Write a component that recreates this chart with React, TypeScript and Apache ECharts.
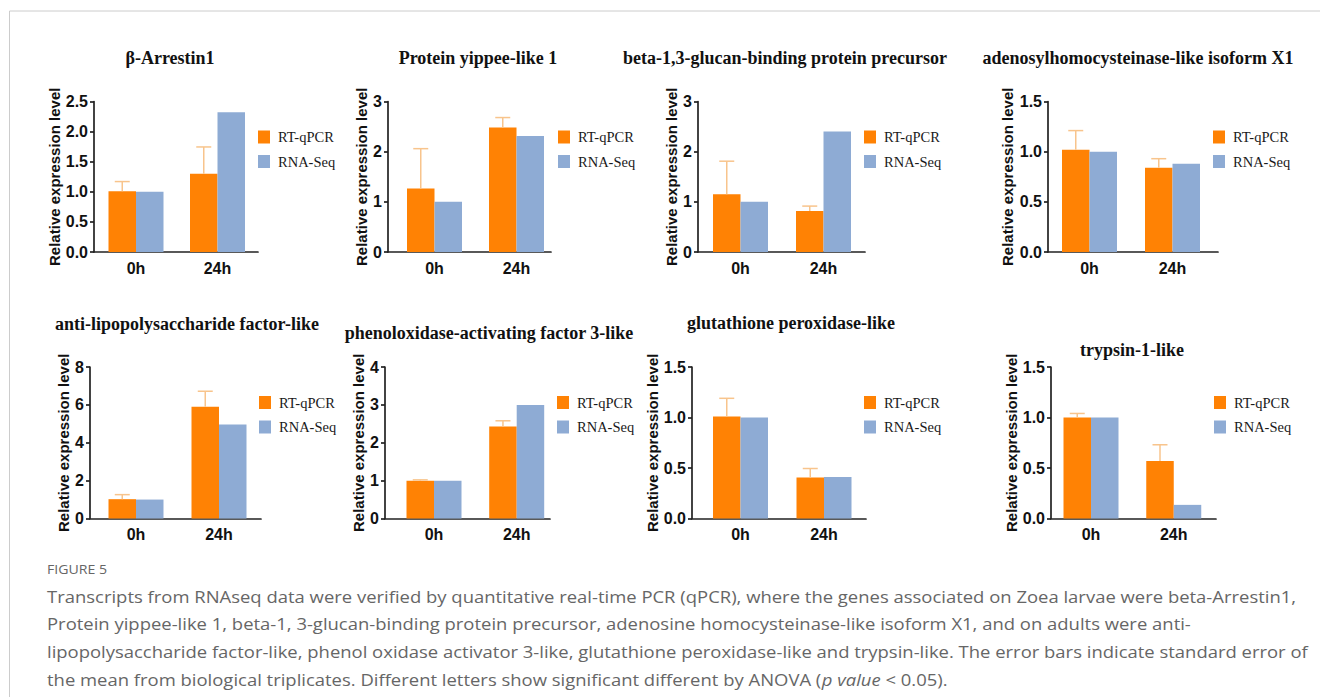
import React, { useEffect, useRef } from 'react';
import * as echarts from 'echarts';

// ---------- data ----------
const genes = [
  'β-Arrestin1',
  'Protein yippee-like 1',
  'beta-1,3-glucan-binding protein precursor',
  'adenosylhomocysteinase-like isoform X1',
  'anti-lipopolysaccharide factor-like',
  'phenoloxidase-activating factor 3-like',
  'glutathione peroxidase-like',
  'trypsin-1-like',
];
const categories = ['0h', '24h'];
const seriesNames = ['RT-qPCR', 'RNA-Seq'];
const qpcr0h = [1.01, 1.265, 1.15, 1.02, 1.02, 1.0, 1.01, 1.0];
const qpcr24h = [1.3, 2.48, 0.815, 0.84, 5.9, 2.43, 0.405, 0.57];
const qpcrErr0h = [0.16, 0.795, 0.66, 0.19, 0.24, 0.02, 0.18, 0.04];
const qpcrErr24h = [0.445, 0.2, 0.1, 0.09, 0.82, 0.15, 0.09, 0.16];
const seq0h = [1.0, 1.0, 1.0, 1.0, 1.0, 1.0, 1.0, 1.0];
const seq24h = [2.32, 2.31, 2.4, 0.88, 4.96, 3.0, 0.41, 0.135];
const yMax = [2.5, 3, 3, 1.5, 8, 4, 1.5, 1.5];
const yStep = [0.5, 1, 1, 0.5, 2, 1, 0.5, 0.5];
const yDecimals = [1, 0, 0, 1, 0, 0, 1, 1];
const yAxisTitle = 'Relative expression level';
const captionHead = 'FIGURE 5';
const captionLines = [
  'Transcripts from RNAseq data were verified by quantitative real-time PCR (qPCR), where the genes associated on Zoea larvae were beta-Arrestin1,',
  'Protein yippee-like 1, beta-1, 3-glucan-binding protein precursor, adenosine homocysteinase-like isoform X1, and on adults were anti-',
  'lipopolysaccharide factor-like, phenol oxidase activator 3-like, glutathione peroxidase-like and trypsin-like. The error bars indicate standard error of',
  'the mean from biological triplicates. Different letters show significant different by ANOVA ({i|p value} < 0.05).',
];

// ---------- layout (pixels) ----------
const TOP_ROW = { top: 101.5, bottom: 252, legendTop: 129.5 };
const BOT_ROW = { top: 367, bottom: 518.5, legendTop: 395 };
const layout = [
  { row: TOP_ROW, axisL: 94, axisR: 258, c1: 136, c2: 217.5, titleX: 170, titleY: 58, legendX: 258, nameGap: 30 },
  { row: TOP_ROW, axisL: 388, axisR: 551, c1: 434.5, c2: 516.5, titleX: 478, titleY: 58, legendX: 558, nameGap: 14 },
  { row: TOP_ROW, axisL: 698, axisR: 865, c1: 740.5, c2: 823.5, titleX: 785, titleY: 58, legendX: 864, nameGap: 14.5 },
  { row: TOP_ROW, axisL: 1048, axisR: 1218, c1: 1089.5, c2: 1172.5, titleX: 1138, titleY: 58, legendX: 1213, nameGap: 33 },
  { row: BOT_ROW, axisL: 90, axisR: 261, c1: 136, c2: 219, titleX: 187, titleY: 324, legendX: 259, nameGap: 15 },
  { row: BOT_ROW, axisL: 385, axisR: 550, c1: 434, c2: 516.7, titleX: 489, titleY: 333, legendX: 557, nameGap: 11.5 },
  { row: BOT_ROW, axisL: 692, axisR: 866, c1: 740.5, c2: 824, titleX: 791, titleY: 323, legendX: 864, nameGap: 30 },
  { row: BOT_ROW, axisL: 1051, axisR: 1216, c1: 1091, c2: 1173.75, titleX: 1132, titleY: 350, legendX: 1214, nameGap: 28 },
];

const ORANGE = '#FF8204';
const BLUE = '#8EABD4';
const ERR = '#F8C48C';
const AXIS = '#222222';
const BAR_W = 27.5;

export default function App() {
  const ref = useRef<HTMLDivElement>(null);

  useEffect(() => {
    if (!ref.current) return;
    const chart = echarts.init(ref.current, null, { renderer: 'svg' });

    const grids: any[] = [];
    const xAxes: any[] = [];
    const yAxes: any[] = [];
    const legends: any[] = [];
    const series: any[] = [];
    const graphics: any[] = [];

    const tickFont = { fontFamily: 'Liberation Sans', fontWeight: 'bold', fontSize: 16, color: '#111' };
    const nameFont = { fontFamily: 'Liberation Sans', fontWeight: 'bold', fontSize: 15, color: '#111' };

    genes.forEach((g, i) => {
      const L = layout[i];
      const s = L.c2 - L.c1;
      const xmin = -(L.c1 - L.axisL) / s;
      const xmax = 1 + (L.axisR - L.c2) / s;
      grids.push({
        left: L.axisL,
        top: L.row.top,
        width: L.axisR - L.axisL,
        height: L.row.bottom - L.row.top,
        containLabel: false,
        outerBoundsMode: 'none',
      });
      xAxes.push({
        type: 'value',
        gridIndex: i,
        min: xmin,
        max: xmax,
        axisLine: { show: true, onZero: false, lineStyle: { color: AXIS, width: 1.7 } },
        axisTick: { show: false },
        splitLine: { show: false },
        axisLabel: {
          customValues: [0, 1],
          formatter: (v: number) => categories[Math.round(v)] ?? '',
          margin: 8,
          ...tickFont,
        },
      });
      yAxes.push({
        type: 'value',
        gridIndex: i,
        min: 0,
        max: yMax[i],
        interval: yStep[i],
        axisLine: { show: true, onZero: false, lineStyle: { color: AXIS, width: 1.7 } },
        axisTick: { show: true, length: 4, lineStyle: { color: AXIS, width: 1.7 } },
        splitLine: { show: false },
        axisLabel: {
          margin: 6,
          formatter: (v: number) => v.toFixed(yDecimals[i]),
          ...tickFont,
        },
        name: yAxisTitle,
        nameLocation: 'middle',
        nameRotate: 90,
        nameGap: L.nameGap,
        nameTextStyle: { ...nameFont },
      });
      legends.push({
        orient: 'vertical',
        left: L.legendX,
        top: L.row.legendTop,
        padding: 0,
        itemWidth: 12,
        itemHeight: 13,
        itemGap: 9.5,
        icon: 'rect',
        selectedMode: false,
        data: seriesNames,
        textStyle: { fontFamily: 'Liberation Serif', fontSize: 14.5, color: '#1a1a1a', padding: [0, 0, 0, 3] },
      });
      series.push({
        type: 'bar',
        name: seriesNames[0],
        xAxisIndex: i,
        yAxisIndex: i,
        barWidth: BAR_W,
        barGap: '0%',
        itemStyle: { color: ORANGE },
        data: [
          [0, qpcr0h[i]],
          [1, qpcr24h[i]],
        ],
      });
      series.push({
        type: 'bar',
        name: seriesNames[1],
        xAxisIndex: i,
        yAxisIndex: i,
        barWidth: BAR_W,
        barGap: '0%',
        itemStyle: { color: BLUE },
        data: [
          [0, seq0h[i]],
          [1, seq24h[i]],
        ],
      });
      series.push({
        type: 'custom',
        name: 'err',
        xAxisIndex: i,
        yAxisIndex: i,
        z: 5,
        encode: { x: 0, y: 1 },
        data: [
          [0, qpcr0h[i], qpcrErr0h[i]],
          [1, qpcr24h[i], qpcrErr24h[i]],
        ],
        renderItem: (params: any, api: any) => {
          const x = api.value(0);
          const m = api.value(1);
          const e = api.value(2);
          const base = api.coord([x, m]);
          const top = api.coord([x, m + e]);
          const cx = base[0] - BAR_W / 2;
          return {
            type: 'group',
            children: [
              { type: 'line', shape: { x1: cx, y1: base[1], x2: cx, y2: top[1] }, style: { stroke: ERR, lineWidth: 1.5 } },
              { type: 'line', shape: { x1: cx - 7.5, y1: top[1], x2: cx + 7.5, y2: top[1] }, style: { stroke: ERR, lineWidth: 1.5 } },
            ],
          };
        },
      });
      graphics.push({
        type: 'text',
        x: L.titleX,
        y: L.titleY,
        style: {
          text: g,
          fontFamily: 'Liberation Serif',
          fontWeight: 'bold',
          fontSize: 18,
          fill: '#111',
          textAlign: 'center',
          textVerticalAlign: 'middle',
        },
      });
    });

    // frame lines
    graphics.push({ type: 'line', shape: { x1: 9.5, y1: 11, x2: 1320, y2: 11 }, style: { stroke: '#cccccc', lineWidth: 1 } });
    graphics.push({ type: 'line', shape: { x1: 9.5, y1: 11, x2: 9.5, y2: 697 }, style: { stroke: '#cccccc', lineWidth: 1 } });

    // caption
    const capFont = 'Open Sans';
    const capSize = 17;
    const capColor = '#666666';
    let scaleX = 0.93;
    try {
      const cv = document.createElement('canvas').getContext('2d');
      if (cv) {
        cv.font = `${capSize}px "${capFont}"`;
        const w = cv.measureText(captionLines[0]).width;
        if (w > 0) scaleX = 1250 / w;
      }
    } catch (e) {}
    graphics.push({
      type: 'text',
      x: 47,
      y: 569,
      scaleX,
      style: { text: captionHead, fontFamily: capFont, fontSize: 13, fill: capColor, textVerticalAlign: 'middle' },
    });
    const lineY = [596, 623.5, 651, 679];
    captionLines.forEach((t, k) => {
      graphics.push({
        type: 'text',
        x: 47,
        y: lineY[k],
        scaleX,
        style: {
          text: t,
          fontFamily: capFont,
          fontSize: capSize,
          fill: capColor,
          textVerticalAlign: 'middle',
          rich: {
            i: { fontFamily: capFont, fontSize: capSize, fill: capColor, fontStyle: 'italic' },
          },
        },
      });
    });

    chart.setOption({
      animation: false,
      backgroundColor: '#ffffff',
      grid: grids,
      xAxis: xAxes,
      yAxis: yAxes,
      legend: legends,
      series,
      graphic: graphics,
    });

    return () => chart.dispose();
  }, []);

  return (
    <div
      ref={ref}
      style={{ position: 'absolute', left: 0, top: 0, width: 1320, height: 697, background: '#fff' }}
    />
  );
}
